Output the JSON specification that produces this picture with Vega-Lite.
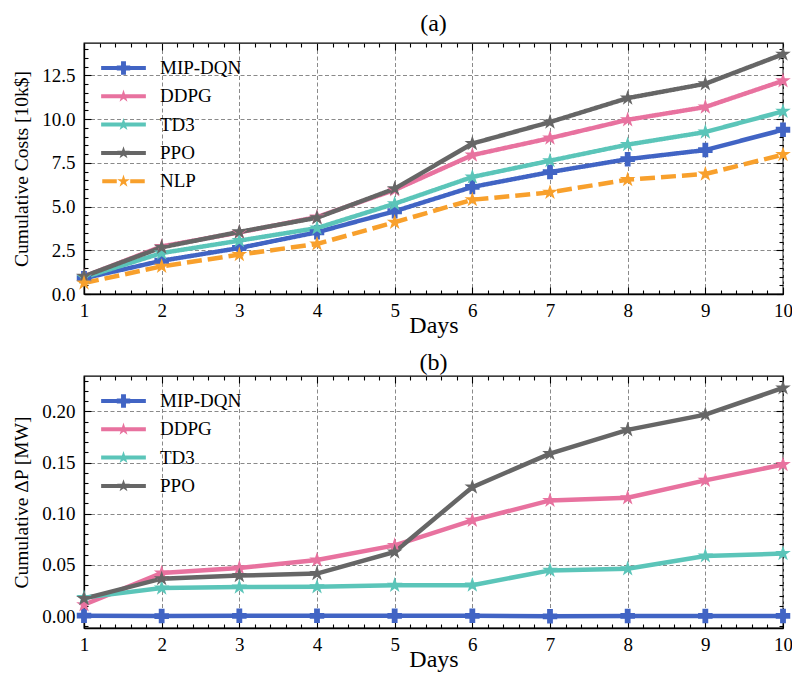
{
  "$schema": "https://vega.github.io/schema/vega-lite/v6.json",
  "padding": {"left": 11, "top": 11, "right": 5, "bottom": 0},
  "config": {
    "font": "Liberation Serif",
    "view": {"stroke": "black", "strokeWidth": 1.3},
    "axis": {"labelFont": "Liberation Serif", "labelFontSize": 19, "titleFont": "Liberation Serif", "titleFontSize": 19.5, "titleFontWeight": "normal", "labelColor": "black", "titleColor": "black", "domainColor": "black", "tickColor": "black", "domainWidth": 1.3, "tickWidth": 1.1, "labelOverlap": false, "labelBound": false, "labelFlush": false},
    "title": {"font": "Liberation Serif", "fontSize": 24, "fontWeight": "normal", "color": "black"},
    "legend": {"labelFont": "Liberation Serif", "labelFontSize": 19, "labelColor": "black"}
  },
  "datasets": {
    "costs": [
      {"day": 1, "method": "MIP-DQN", "value": 0.9}, {"day": 2, "method": "MIP-DQN", "value": 1.9}, {"day": 3, "method": "MIP-DQN", "value": 2.63}, {"day": 4, "method": "MIP-DQN", "value": 3.53}, {"day": 5, "method": "MIP-DQN", "value": 4.73}, {"day": 6, "method": "MIP-DQN", "value": 6.12}, {"day": 7, "method": "MIP-DQN", "value": 6.97}, {"day": 8, "method": "MIP-DQN", "value": 7.71}, {"day": 9, "method": "MIP-DQN", "value": 8.23}, {"day": 10, "method": "MIP-DQN", "value": 9.39},
      {"day": 1, "method": "DDPG", "value": 1.0}, {"day": 2, "method": "DDPG", "value": 2.72}, {"day": 3, "method": "DDPG", "value": 3.52}, {"day": 4, "method": "DDPG", "value": 4.4}, {"day": 5, "method": "DDPG", "value": 5.95}, {"day": 6, "method": "DDPG", "value": 7.94}, {"day": 7, "method": "DDPG", "value": 8.91}, {"day": 8, "method": "DDPG", "value": 9.96}, {"day": 9, "method": "DDPG", "value": 10.69}, {"day": 10, "method": "DDPG", "value": 12.19},
      {"day": 1, "method": "TD3", "value": 0.95}, {"day": 2, "method": "TD3", "value": 2.34}, {"day": 3, "method": "TD3", "value": 3.05}, {"day": 4, "method": "TD3", "value": 3.77}, {"day": 5, "method": "TD3", "value": 5.16}, {"day": 6, "method": "TD3", "value": 6.69}, {"day": 7, "method": "TD3", "value": 7.62}, {"day": 8, "method": "TD3", "value": 8.54}, {"day": 9, "method": "TD3", "value": 9.26}, {"day": 10, "method": "TD3", "value": 10.44},
      {"day": 1, "method": "PPO", "value": 1.01}, {"day": 2, "method": "PPO", "value": 2.67}, {"day": 3, "method": "PPO", "value": 3.55}, {"day": 4, "method": "PPO", "value": 4.36}, {"day": 5, "method": "PPO", "value": 6.02}, {"day": 6, "method": "PPO", "value": 8.6}, {"day": 7, "method": "PPO", "value": 9.83}, {"day": 8, "method": "PPO", "value": 11.2}, {"day": 9, "method": "PPO", "value": 12.02}, {"day": 10, "method": "PPO", "value": 13.71},
      {"day": 1, "method": "NLP", "value": 0.63}, {"day": 2, "method": "NLP", "value": 1.58}, {"day": 3, "method": "NLP", "value": 2.25}, {"day": 4, "method": "NLP", "value": 2.86}, {"day": 5, "method": "NLP", "value": 4.1}, {"day": 6, "method": "NLP", "value": 5.39}, {"day": 7, "method": "NLP", "value": 5.81}, {"day": 8, "method": "NLP", "value": 6.54}, {"day": 9, "method": "NLP", "value": 6.86}, {"day": 10, "method": "NLP", "value": 7.97}
    ],
    "dp": [
      {"day": 1, "method": "MIP-DQN", "value": 0.0003}, {"day": 2, "method": "MIP-DQN", "value": 0.0}, {"day": 3, "method": "MIP-DQN", "value": 0.0002}, {"day": 4, "method": "MIP-DQN", "value": 0.0002}, {"day": 5, "method": "MIP-DQN", "value": 0.0002}, {"day": 6, "method": "MIP-DQN", "value": 0.0002}, {"day": 7, "method": "MIP-DQN", "value": -0.0003}, {"day": 8, "method": "MIP-DQN", "value": 0.0001}, {"day": 9, "method": "MIP-DQN", "value": 0.0001}, {"day": 10, "method": "MIP-DQN", "value": 0.0001},
      {"day": 1, "method": "DDPG", "value": 0.011}, {"day": 2, "method": "DDPG", "value": 0.042}, {"day": 3, "method": "DDPG", "value": 0.047}, {"day": 4, "method": "DDPG", "value": 0.0547}, {"day": 5, "method": "DDPG", "value": 0.069}, {"day": 6, "method": "DDPG", "value": 0.0935}, {"day": 7, "method": "DDPG", "value": 0.113}, {"day": 8, "method": "DDPG", "value": 0.1156}, {"day": 9, "method": "DDPG", "value": 0.1326}, {"day": 10, "method": "DDPG", "value": 0.148},
      {"day": 1, "method": "TD3", "value": 0.018}, {"day": 2, "method": "TD3", "value": 0.0274}, {"day": 3, "method": "TD3", "value": 0.0283}, {"day": 4, "method": "TD3", "value": 0.0285}, {"day": 5, "method": "TD3", "value": 0.03}, {"day": 6, "method": "TD3", "value": 0.0302}, {"day": 7, "method": "TD3", "value": 0.0446}, {"day": 8, "method": "TD3", "value": 0.0462}, {"day": 9, "method": "TD3", "value": 0.0587}, {"day": 10, "method": "TD3", "value": 0.061},
      {"day": 1, "method": "PPO", "value": 0.017}, {"day": 2, "method": "PPO", "value": 0.0365}, {"day": 3, "method": "PPO", "value": 0.0395}, {"day": 4, "method": "PPO", "value": 0.0415}, {"day": 5, "method": "PPO", "value": 0.0626}, {"day": 6, "method": "PPO", "value": 0.126}, {"day": 7, "method": "PPO", "value": 0.1587}, {"day": 8, "method": "PPO", "value": 0.182}, {"day": 9, "method": "PPO", "value": 0.1968}, {"day": 10, "method": "PPO", "value": 0.2229}
    ]
  },
  "spacing": 12,
  "resolve": {"scale": {"color": "independent", "shape": "independent", "strokeDash": "independent"}},
  "vconcat": [
    {
      "title": {"text": "(a)", "offset": 4},
      "width": 699, "height": 251,
      "data": {"name": "costs"},
      "layer": [
        {
          "mark": {"type": "line", "strokeWidth": 4.5},
          "encoding": {
            "x": {"field": "day", "type": "quantitative", "scale": {"domain": [1, 10], "nice": false, "zero": false},
              "axis": {"values": [1,1.2,1.4,1.6,1.8,2,2.2,2.4,2.6,2.8,3,3.2,3.4,3.6,3.8,4,4.2,4.4,4.6,4.8,5,5.2,5.4,5.6,5.8,6,6.2,6.4,6.6,6.8,7,7.2,7.4,7.6,7.8,8,8.2,8.4,8.6,8.8,9,9.2,9.4,9.6,9.8,10],
                "labelExpr": "abs(datum.value - round(datum.value)) < 0.01 ? format(datum.value, 'd') : ''",
                "tickSize": {"condition": {"test": "abs(datum.value - round(datum.value)) < 0.01", "value": -7}, "value": -4},
                "grid": true, "gridOpacity": {"condition": {"test": "abs(datum.value - round(datum.value)) < 0.01", "value": 1}, "value": 0},
                "gridDash": [4, 2.5], "gridColor": "#8a8a8a", "gridWidth": 1,
                "title": "Days", "titleFontSize": 24, "titlePadding": -10, "labelPadding": 14}},
            "y": {"field": "value", "type": "quantitative", "scale": {"domain": [0, 14.35], "nice": false},
              "axis": {"values": [0,0.5,1,1.5,2,2.5,3,3.5,4,4.5,5,5.5,6,6.5,7,7.5,8,8.5,9,9.5,10,10.5,11,11.5,12,12.5,13,13.5,14],
                "labelExpr": "abs(datum.value/2.5 - round(datum.value/2.5)) < 0.01 ? format(datum.value, '.1f') : ''",
                "tickSize": {"condition": {"test": "abs(datum.value/2.5 - round(datum.value/2.5)) < 0.01", "value": -7}, "value": -4},
                "grid": true, "gridOpacity": {"condition": {"test": "abs(datum.value/2.5 - round(datum.value/2.5)) < 0.01", "value": 1}, "value": 0},
                "gridDash": [4, 2.5], "gridColor": "#8a8a8a", "gridWidth": 1,
                "title": "Cumulative Costs [10k$]", "titlePadding": 10, "labelPadding": 16}},
            "color": {"field": "method", "type": "nominal",
              "scale": {"domain": ["MIP-DQN", "DDPG", "TD3", "PPO", "NLP"], "range": ["#4164c4", "#e8729f", "#5bc5b9", "#666666", "#f8a02c"]},
              "legend": {"orient": "none", "legendX": 17, "legendY": 14, "title": null, "padding": 0, "symbolSize": 2000, "symbolStrokeWidth": 0, "symbolOpacity": 1, "clipHeight": 22, "rowPadding": 6.3, "labelOffset": 14}},
            "strokeDash": {"field": "method", "type": "nominal",
              "scale": {"domain": ["MIP-DQN", "DDPG", "TD3", "PPO", "NLP"], "range": [[1, 0], [1, 0], [1, 0], [1, 0], [15, 6]]}, "legend": null}
          }
        },
        {
          "mark": {"type": "point", "filled": true, "opacity": 1},
          "encoding": {
            "x": {"field": "day", "type": "quantitative", "axis": null},
            "y": {"field": "value", "type": "quantitative", "axis": null},
            "color": {"field": "method", "type": "nominal"},
            "size": {"condition": {"test": "datum.method == 'MIP-DQN'", "value": 210}, "value": 270},
            "shape": {"condition": {"test": "datum.method == 'MIP-DQN'", "value": "cross"}, "value": "M0,-1L0.2245,-0.309L0.9511,-0.309L0.3633,0.118L0.5878,0.809L0,0.382L-0.5878,0.809L-0.3633,0.118L-0.9511,-0.309L-0.2245,-0.309Z"}
          }
        },
        {
          "mark": {"type": "point", "filled": true, "opacity": 0},
          "encoding": {
            "x": {"field": "day", "type": "quantitative", "axis": null},
            "y": {"field": "value", "type": "quantitative", "axis": null},
            "color": {"field": "method", "type": "nominal"},
            "shape": {"field": "method", "type": "nominal",
              "scale": {"domain": ["MIP-DQN", "DDPG", "TD3", "PPO", "NLP"], "range": [
                "M-1,-0.09L1,-0.09L1,0.09L-1,0.09ZM-0.3,-0.11L-0.11,-0.11L-0.11,-0.3L0.11,-0.3L0.11,-0.11L0.3,-0.11L0.3,0.11L0.11,0.11L0.11,0.3L-0.11,0.3L-0.11,0.11L-0.3,0.11Z",
                "M-1,-0.09L1,-0.09L1,0.09L-1,0.09ZM0,-0.3L0.0674,-0.0927L0.2853,-0.0927L0.109,0.0354L0.1763,0.2427L0,0.1146L-0.1763,0.2427L-0.109,0.0354L-0.2853,-0.0927L-0.0674,-0.0927Z",
                "M-1,-0.09L1,-0.09L1,0.09L-1,0.09ZM0,-0.3L0.0674,-0.0927L0.2853,-0.0927L0.109,0.0354L0.1763,0.2427L0,0.1146L-0.1763,0.2427L-0.109,0.0354L-0.2853,-0.0927L-0.0674,-0.0927Z",
                "M-1,-0.09L1,-0.09L1,0.09L-1,0.09ZM0,-0.3L0.0674,-0.0927L0.2853,-0.0927L0.109,0.0354L0.1763,0.2427L0,0.1146L-0.1763,0.2427L-0.109,0.0354L-0.2853,-0.0927L-0.0674,-0.0927Z",
                "M-0.95,-0.09L-0.3,-0.09L-0.3,0.09L-0.95,0.09ZM0.3,-0.09L0.95,-0.09L0.95,0.09L0.3,0.09ZM0,-0.3L0.0674,-0.0927L0.2853,-0.0927L0.109,0.0354L0.1763,0.2427L0,0.1146L-0.1763,0.2427L-0.109,0.0354L-0.2853,-0.0927L-0.0674,-0.0927Z"]},
              "legend": {"orient": "none", "legendX": 17, "legendY": 14, "title": null, "padding": 0, "symbolSize": 2000, "symbolStrokeWidth": 0, "symbolOpacity": 1, "clipHeight": 22, "rowPadding": 6.3, "labelOffset": 14}}
          }
        },
        {
          "mark": {"type": "point", "opacity": 0},
          "encoding": {
            "x": {"field": "day", "type": "quantitative",
              "axis": {"orient": "top", "values": [1,1.2,1.4,1.6,1.8,2,2.2,2.4,2.6,2.8,3,3.2,3.4,3.6,3.8,4,4.2,4.4,4.6,4.8,5,5.2,5.4,5.6,5.8,6,6.2,6.4,6.6,6.8,7,7.2,7.4,7.6,7.8,8,8.2,8.4,8.6,8.8,9,9.2,9.4,9.6,9.8,10],
                "labels": false, "grid": false, "domain": false, "title": null,
                "tickSize": {"condition": {"test": "abs(datum.value - round(datum.value)) < 0.01", "value": -7}, "value": -4}}},
            "y": {"field": "value", "type": "quantitative",
              "axis": {"orient": "right", "values": [0,0.5,1,1.5,2,2.5,3,3.5,4,4.5,5,5.5,6,6.5,7,7.5,8,8.5,9,9.5,10,10.5,11,11.5,12,12.5,13,13.5,14],
                "labels": false, "grid": false, "domain": false, "title": null,
                "tickSize": {"condition": {"test": "abs(datum.value/2.5 - round(datum.value/2.5)) < 0.01", "value": -7}, "value": -4}}}
          }
        }
      ],
      "resolve": {"axis": {"x": "independent", "y": "independent"}}
    },
    {
      "title": {"text": "(b)", "offset": -3},
      "width": 699, "height": 252,
      "data": {"name": "dp"},
      "layer": [
        {
          "mark": {"type": "line", "strokeWidth": 4.5},
          "encoding": {
            "x": {"field": "day", "type": "quantitative", "scale": {"domain": [1, 10], "nice": false, "zero": false},
              "axis": {"values": [1,1.2,1.4,1.6,1.8,2,2.2,2.4,2.6,2.8,3,3.2,3.4,3.6,3.8,4,4.2,4.4,4.6,4.8,5,5.2,5.4,5.6,5.8,6,6.2,6.4,6.6,6.8,7,7.2,7.4,7.6,7.8,8,8.2,8.4,8.6,8.8,9,9.2,9.4,9.6,9.8,10],
                "labelExpr": "abs(datum.value - round(datum.value)) < 0.01 ? format(datum.value, 'd') : ''",
                "tickSize": {"condition": {"test": "abs(datum.value - round(datum.value)) < 0.01", "value": -7}, "value": -4},
                "grid": true, "gridOpacity": {"condition": {"test": "abs(datum.value - round(datum.value)) < 0.01", "value": 1}, "value": 0},
                "gridDash": [4, 2.5], "gridColor": "#8a8a8a", "gridWidth": 1,
                "title": "Days", "titleFontSize": 24, "titlePadding": -10, "labelPadding": 14}},
            "y": {"field": "value", "type": "quantitative", "scale": {"domain": [-0.0117, 0.2346], "nice": false, "zero": false},
              "axis": {"values": [-0.01,0,0.01,0.02,0.03,0.04,0.05,0.06,0.07,0.08,0.09,0.1,0.11,0.12,0.13,0.14,0.15,0.16,0.17,0.18,0.19,0.2,0.21,0.22,0.23],
                "labelExpr": "abs(datum.value/0.05 - round(datum.value/0.05)) < 0.01 ? format(datum.value, '.2f') : ''",
                "tickSize": {"condition": {"test": "abs(datum.value/0.05 - round(datum.value/0.05)) < 0.01", "value": -7}, "value": -4},
                "grid": true, "gridOpacity": {"condition": {"test": "abs(datum.value/0.05 - round(datum.value/0.05)) < 0.01", "value": 1}, "value": 0},
                "gridDash": [4, 2.5], "gridColor": "#8a8a8a", "gridWidth": 1,
                "title": "Cumulative ΔP [MW]", "titlePadding": 10, "labelPadding": 16}},
            "color": {"field": "method", "type": "nominal",
              "scale": {"domain": ["MIP-DQN", "DDPG", "TD3", "PPO"], "range": ["#4164c4", "#e8729f", "#5bc5b9", "#666666"]},
              "legend": {"orient": "none", "legendX": 17, "legendY": 14, "title": null, "padding": 0, "symbolSize": 2000, "symbolStrokeWidth": 0, "symbolOpacity": 1, "clipHeight": 22, "rowPadding": 6.3, "labelOffset": 14}}
          }
        },
        {
          "mark": {"type": "point", "filled": true, "opacity": 1},
          "encoding": {
            "x": {"field": "day", "type": "quantitative", "axis": null},
            "y": {"field": "value", "type": "quantitative", "axis": null},
            "color": {"field": "method", "type": "nominal"},
            "size": {"condition": {"test": "datum.method == 'MIP-DQN'", "value": 210}, "value": 270},
            "shape": {"condition": {"test": "datum.method == 'MIP-DQN'", "value": "cross"}, "value": "M0,-1L0.2245,-0.309L0.9511,-0.309L0.3633,0.118L0.5878,0.809L0,0.382L-0.5878,0.809L-0.3633,0.118L-0.9511,-0.309L-0.2245,-0.309Z"}
          }
        },
        {
          "mark": {"type": "point", "filled": true, "opacity": 0},
          "encoding": {
            "x": {"field": "day", "type": "quantitative", "axis": null},
            "y": {"field": "value", "type": "quantitative", "axis": null},
            "color": {"field": "method", "type": "nominal"},
            "shape": {"field": "method", "type": "nominal",
              "scale": {"domain": ["MIP-DQN", "DDPG", "TD3", "PPO"], "range": [
                "M-1,-0.09L1,-0.09L1,0.09L-1,0.09ZM-0.3,-0.11L-0.11,-0.11L-0.11,-0.3L0.11,-0.3L0.11,-0.11L0.3,-0.11L0.3,0.11L0.11,0.11L0.11,0.3L-0.11,0.3L-0.11,0.11L-0.3,0.11Z",
                "M-1,-0.09L1,-0.09L1,0.09L-1,0.09ZM0,-0.3L0.0674,-0.0927L0.2853,-0.0927L0.109,0.0354L0.1763,0.2427L0,0.1146L-0.1763,0.2427L-0.109,0.0354L-0.2853,-0.0927L-0.0674,-0.0927Z",
                "M-1,-0.09L1,-0.09L1,0.09L-1,0.09ZM0,-0.3L0.0674,-0.0927L0.2853,-0.0927L0.109,0.0354L0.1763,0.2427L0,0.1146L-0.1763,0.2427L-0.109,0.0354L-0.2853,-0.0927L-0.0674,-0.0927Z",
                "M-1,-0.09L1,-0.09L1,0.09L-1,0.09ZM0,-0.3L0.0674,-0.0927L0.2853,-0.0927L0.109,0.0354L0.1763,0.2427L0,0.1146L-0.1763,0.2427L-0.109,0.0354L-0.2853,-0.0927L-0.0674,-0.0927Z"]},
              "legend": {"orient": "none", "legendX": 17, "legendY": 14, "title": null, "padding": 0, "symbolSize": 2000, "symbolStrokeWidth": 0, "symbolOpacity": 1, "clipHeight": 22, "rowPadding": 6.3, "labelOffset": 14}}
          }
        },
        {
          "mark": {"type": "point", "opacity": 0},
          "encoding": {
            "x": {"field": "day", "type": "quantitative",
              "axis": {"orient": "top", "values": [1,1.2,1.4,1.6,1.8,2,2.2,2.4,2.6,2.8,3,3.2,3.4,3.6,3.8,4,4.2,4.4,4.6,4.8,5,5.2,5.4,5.6,5.8,6,6.2,6.4,6.6,6.8,7,7.2,7.4,7.6,7.8,8,8.2,8.4,8.6,8.8,9,9.2,9.4,9.6,9.8,10],
                "labels": false, "grid": false, "domain": false, "title": null,
                "tickSize": {"condition": {"test": "abs(datum.value - round(datum.value)) < 0.01", "value": -7}, "value": -4}}},
            "y": {"field": "value", "type": "quantitative",
              "axis": {"orient": "right", "values": [-0.01,0,0.01,0.02,0.03,0.04,0.05,0.06,0.07,0.08,0.09,0.1,0.11,0.12,0.13,0.14,0.15,0.16,0.17,0.18,0.19,0.2,0.21,0.22,0.23],
                "labels": false, "grid": false, "domain": false, "title": null,
                "tickSize": {"condition": {"test": "abs(datum.value/0.05 - round(datum.value/0.05)) < 0.01", "value": -7}, "value": -4}}}
          }
        }
      ],
      "resolve": {"axis": {"x": "independent", "y": "independent"}}
    }
  ]
}
